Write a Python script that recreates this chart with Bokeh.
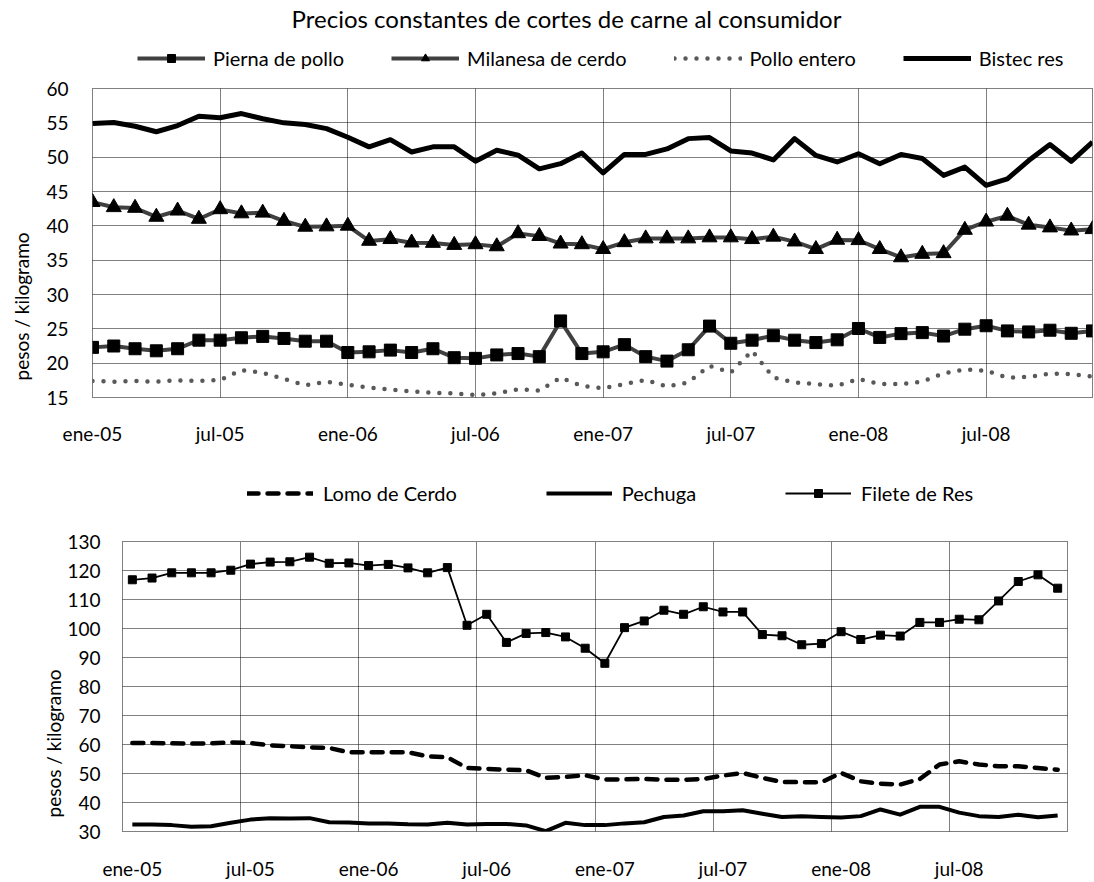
from bokeh.plotting import figure
from bokeh.models import FixedTicker, Legend, LegendItem, Title, Label
from bokeh.layouts import column
from bokeh.embed import file_html
from bokeh.resources import INLINE

FONT = "Lato"

tick_labels = ["ene-05", "jul-05", "ene-06", "jul-06", "ene-07", "jul-07", "ene-08", "jul-08"]
tick_pos = [0, 6, 12, 18, 24, 30, 36, 42]
months = list(range(48))

# Top panel (pesos / kilogramo)
pierna_pollo = [22.3, 22.5, 22.1, 21.8, 22.1, 23.35, 23.35, 23.7, 23.9, 23.6, 23.2, 23.2,
                21.55, 21.65, 21.9, 21.55, 22.1, 20.8, 20.7, 21.2, 21.4, 20.95, 26.15, 21.4,
                21.65, 22.7, 20.95, 20.3, 21.95, 25.4, 22.9, 23.35, 24.0, 23.35, 23.0, 23.4,
                25.05, 23.75, 24.3, 24.45, 23.95, 24.95, 25.45, 24.7, 24.55, 24.8, 24.35, 24.7]
milanesa_cerdo = [43.45, 42.7, 42.6, 41.3, 42.2, 41.0, 42.4, 41.8, 41.9, 40.7, 39.85, 39.9,
                  40.0, 37.8, 38.05, 37.55, 37.5, 37.2, 37.3, 37.0, 38.9, 38.5, 37.4, 37.3,
                  36.6, 37.6, 38.15, 38.15, 38.15, 38.3, 38.3, 38.05, 38.4, 37.7, 36.6, 37.95,
                  37.9, 36.6, 35.4, 35.9, 36.0, 39.4, 40.6, 41.45, 40.15, 39.75, 39.3, 39.5]
pollo_entero = [17.4, 17.3, 17.4, 17.3, 17.5, 17.4, 17.55, 19.0, 18.6, 17.7, 16.8, 17.3,
                16.85, 16.45, 16.15, 15.9, 15.7, 15.6, 15.35, 15.6, 16.2, 16.0, 17.9, 16.7,
                16.35, 16.95, 17.55, 16.6, 17.2, 19.6, 18.65, 21.8, 17.9, 17.2, 16.95, 16.7,
                17.7, 16.95, 16.95, 17.3, 18.5, 19.1, 18.9, 17.9, 18.0, 18.5, 18.4, 18.05]
bistec_res = [54.9, 55.05, 54.5, 53.7, 54.6, 55.95, 55.75, 56.35, 55.6, 55.0, 54.75, 54.15,
              52.9, 51.5, 52.55, 50.75, 51.5, 51.5, 49.4, 51.0, 50.3, 48.3, 49.05, 50.6,
              47.7, 50.4, 50.4, 51.2, 52.7, 52.85, 50.9, 50.6, 49.6, 52.7, 50.25, 49.3,
              50.5, 49.05, 50.4, 49.8, 47.35, 48.55, 45.9, 46.85, 49.5, 51.85, 49.4, 52.2]

# Bottom panel
lomo_cerdo = [60.5, 60.5, 60.4, 60.3, 60.4, 60.7, 60.5, 59.7, 59.4, 59.0, 58.8, 57.3,
              57.3, 57.3, 57.3, 55.9, 55.6, 51.9, 51.6, 51.3, 51.1, 48.5, 48.8, 49.4,
              47.9, 48.0, 48.1, 47.9, 47.8, 48.1, 49.3, 50.2, 48.5, 47.1, 47.0, 47.0,
              50.2, 47.3, 46.5, 46.2, 48.1, 53.1, 54.2, 53.1, 52.5, 52.5, 51.9, 51.3]
pechuga = [32.4, 32.4, 32.2, 31.6, 31.8, 33.0, 34.1, 34.6, 34.5, 34.6, 33.2, 33.1,
           32.8, 32.8, 32.5, 32.4, 33.0, 32.4, 32.6, 32.6, 32.1, 30.1, 33.0, 32.2,
           32.2, 32.8, 33.2, 35.0, 35.5, 37.0, 37.0, 37.3, 36.1, 35.0, 35.3, 35.0,
           34.8, 35.3, 37.6, 35.8, 38.5, 38.5, 36.5, 35.3, 35.0, 35.8, 34.9, 35.5]
filete_res = [116.8, 117.4, 119.2, 119.2, 119.2, 120.1, 122.2, 122.9, 123.0, 124.6, 122.5, 122.6,
              121.7, 122.1, 120.9, 119.2, 121.0, 101.1, 104.9, 95.2, 98.3, 98.6, 97.1, 93.2,
              88.0, 100.3, 102.6, 106.3, 104.9, 107.5, 105.7, 105.7, 97.9, 97.5, 94.4, 94.8,
              98.9, 96.2, 97.7, 97.4, 102.1, 102.1, 103.2, 103.0, 109.5, 116.2, 118.5, 113.9]

# line styles shared between each chart and its legend strip
ST_PE = dict(line_color="#595959", line_width=4.5, line_dash="0 11", line_cap="round")
ST_BI = dict(line_color="black", line_width=5, line_join="round")
ST_GL = dict(line_color="#404040", line_width=4, line_join="round")
ST_TRI = dict(marker="triangle", size=15, fill_color="black", line_color="black")
ST_SQ = dict(marker="square", size=12, fill_color="black", line_color="black")
ST_LO = dict(line_color="black", line_width=4.5, line_dash="11 9", line_cap="round",
             line_join="round")
ST_PC = dict(line_color="black", line_width=4, line_join="round")
ST_FI = dict(line_color="black", line_width=1.8, line_join="round")
ST_FSQ = dict(marker="square", size=8, fill_color="black", line_color="black")


def strip(height):
    # a frame-only strip: the series drawn here fall outside its ranges,
    # they only provide the legend samples
    s = figure(width=1094, height=height, x_range=(0, 1), y_range=(0, 1),
               output_backend="svg", toolbar_location=None, frame_align=False,
               x_axis_location=None, y_axis_location=None,
               min_border_left=0, min_border_right=0, min_border_top=0, min_border_bottom=0)
    s.outline_line_color = None
    s.xgrid.visible = False
    s.ygrid.visible = False
    s.background_fill_color = "white"
    s.border_fill_color = "white"
    return s


def legend(items, loc, spacing, gw, standoff):
    return Legend(items=items, orientation="horizontal", location=loc, spacing=spacing,
                  glyph_width=gw, glyph_height=20, label_height=20, label_standoff=standoff,
                  padding=0, margin=0, label_text_font=FONT, label_text_font_size="20px",
                  label_text_color="black", border_line_alpha=0, background_fill_alpha=0)


def style(p, yticks, xticks, xgrid_ticks, ystand, xstand):
    p.outline_line_color = "black"
    p.outline_line_dash = "1 1"
    p.outline_line_width = 1
    p.background_fill_color = "white"
    p.border_fill_color = "white"
    for ax in (p.xaxis[0], p.yaxis[0]):
        ax.axis_line_color = None
        ax.major_tick_line_color = None
        ax.minor_tick_line_color = None
        ax.major_tick_out = 0
        ax.major_tick_in = 0
        ax.major_label_text_font = FONT
        ax.major_label_text_font_size = "19px"
        ax.major_label_text_color = "black"
    p.yaxis[0].ticker = FixedTicker(ticks=yticks)
    p.xaxis[0].ticker = FixedTicker(ticks=xticks)
    p.xaxis[0].major_label_overrides = {t: l for t, l in zip(xticks, tick_labels)}
    p.yaxis[0].major_label_standoff = ystand
    p.xaxis[0].major_label_standoff = xstand
    p.xgrid.ticker = FixedTicker(ticks=xgrid_ticks)
    p.ygrid.ticker = FixedTicker(ticks=yticks)
    for g in (p.xgrid[0], p.ygrid[0]):
        g.grid_line_color = "black"
        g.grid_line_dash = "1 1"
        g.grid_line_width = 1


# ---------------- title + legend strip (top) ----------------
L1 = strip(70)
l_pi = [L1.line(months, pierna_pollo, **ST_GL), L1.scatter(months, pierna_pollo, **ST_SQ)]
l_mi = [L1.line(months, milanesa_cerdo, **ST_GL), L1.scatter(months, milanesa_cerdo, **ST_TRI)]
l_pe = [L1.line(months, pollo_entero, **ST_PE)]
l_bi = [L1.line(months, bistec_res, **ST_BI)]
L1.add_layout(legend([
    LegendItem(label="Pierna de pollo", renderers=l_pi),
    LegendItem(label="Milanesa de cerdo", renderers=l_mi),
    LegendItem(label="Pollo entero", renderers=l_pe),
    LegendItem(label="Bistec res", renderers=l_bi),
], (137, 0), 47, 68, 8), "center")
L1.add_layout(Label(x=566, y=52, x_units="screen", y_units="screen",
                    text="Precios constantes de cortes de carne al consumidor",
                    text_font=FONT, text_font_size="24px", text_align="center",
                    text_baseline="middle", text_color="black"))

# ---------------- top chart ----------------
p1 = figure(width=1094, height=380, x_range=(0, 47), y_range=(15, 60),
            output_backend="svg", toolbar_location=None, frame_align=False,
            min_border_left=91, min_border_right=2, min_border_top=18, min_border_bottom=53)
style(p1, list(range(15, 61, 5)), tick_pos, tick_pos, 24, 24)

p1.line(months, pollo_entero, **ST_PE)
p1.line(months, bistec_res, **ST_BI)
p1.line(months, milanesa_cerdo, **ST_GL)
p1.scatter(months, milanesa_cerdo, **ST_TRI)
p1.line(months, pierna_pollo, **ST_GL)
p1.scatter(months, pierna_pollo, **ST_SQ)

p1.add_layout(Title(text="pesos / kilogramo", align="left", offset=17, standoff=18,
                    vertical_align="top",
                    text_font=FONT, text_font_size="19px", text_font_style="normal",
                    text_color="black"), "left")

# ---------------- legend strip (bottom) ----------------
L2 = strip(70)
m_lo = [L2.line(months, lomo_cerdo, **ST_LO)]
m_pc = [L2.line(months, pechuga, **ST_PC)]
m_fi = [L2.line(months, filete_res, **ST_FI), L2.scatter(months, filete_res, **ST_FSQ)]
L2.add_layout(legend([
    LegendItem(label="Lomo de Cerdo", renderers=m_lo),
    LegendItem(label="Pechuga", renderers=m_pc),
    LegendItem(label="Filete de Res", renderers=m_fi),
], (247, 15), 89, 66, 10), "center")

# ---------------- bottom chart ----------------
p2 = figure(width=1094, height=362, x_range=(-0.5, 47.5), y_range=(30, 130),
            output_backend="svg", toolbar_location=None, frame_align=False,
            min_border_left=122, min_border_right=27, min_border_top=21, min_border_bottom=51)
style(p2, list(range(30, 131, 10)), tick_pos, [5.5, 11.5, 17.5, 23.5, 29.5, 35.5, 41.5], 22, 25)

p2.line(months, lomo_cerdo, **ST_LO)
p2.line(months, pechuga, **ST_PC)
p2.line(months, filete_res, **ST_FI)
p2.scatter(months, filete_res, **ST_FSQ)

p2.add_layout(Title(text="pesos / kilogramo", align="left", offset=14, standoff=0,
                    vertical_align="bottom",
                    text_font=FONT, text_font_size="19px", text_font_style="normal",
                    text_color="black"), "left")

layout = column(L1, p1, L2, p2, spacing=0)
open("out.html", "w").write(file_html(layout, INLINE))
